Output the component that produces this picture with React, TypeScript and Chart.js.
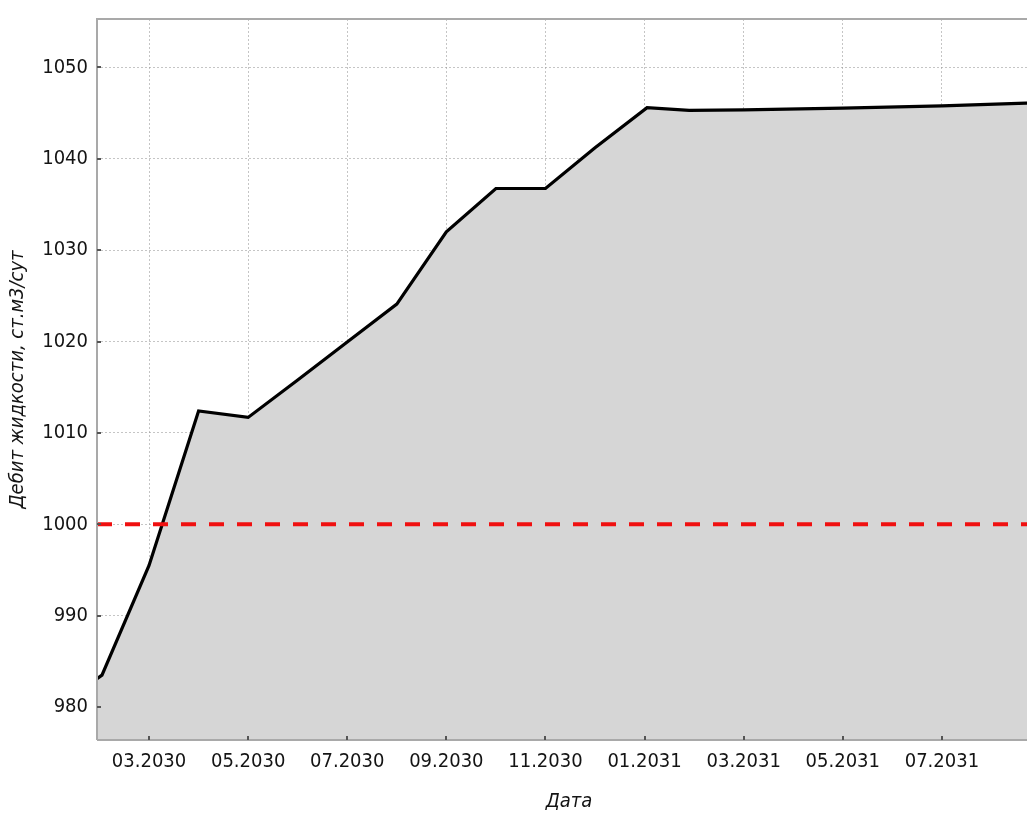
import React, { useEffect, useRef } from "react";
import { Chart, registerables } from "chart.js";

Chart.register(...registerables);

// x values: month index (0 = 01.2030)
const monthIndex = [0.95, 1.05, 2, 3, 4, 5, 6, 7, 8, 9, 10, 11, 12.05, 12.9, 14, 16, 18, 19.7, 20];
const liquidRate = [983.1, 983.5, 995.5, 1012.4, 1011.7, 1015.8, 1019.95, 1024.1, 1032.0, 1036.75, 1036.75, 1041.2, 1045.6, 1045.3, 1045.35, 1045.55, 1045.8, 1046.1, 1046.15];
const limitX = [0.95, 20];
const limitRate = [1000, 1000];
const xTickPositions = [2, 4, 6, 8, 10, 12, 14, 16, 18];
const xTickLabels = ["03.2030", "05.2030", "07.2030", "09.2030", "11.2030", "01.2031", "03.2031", "05.2031", "07.2031"];
const yTickValues = [980, 990, 1000, 1010, 1020, 1030, 1040, 1050];

const FONT = "'DejaVu Sans Condensed', 'DejaVu Sans', sans-serif";
const TEXT = "#141414";

const framePlugin = {
  id: "frame",
  afterDraw(chart: any) {
    const { ctx, chartArea, scales } = chart;
    ctx.save();
    ctx.strokeStyle = "#a9a9a9";
    ctx.lineWidth = 2;
    ctx.beginPath();
    ctx.moveTo(chartArea.left, chartArea.bottom);
    ctx.lineTo(chartArea.left, chartArea.top);
    ctx.lineTo(chartArea.right + 5, chartArea.top);
    ctx.moveTo(chartArea.left, chartArea.bottom);
    ctx.lineTo(chartArea.right + 5, chartArea.bottom);
    ctx.stroke();
    ctx.strokeStyle = "#555";
    ctx.lineWidth = 2;
    ctx.beginPath();
    for (const v of yTickValues) {
      const y = Math.round(scales.y.getPixelForValue(v));
      ctx.moveTo(chartArea.left, y);
      ctx.lineTo(chartArea.left + 4, y);
    }
    for (const v of xTickPositions) {
      const x = Math.round(scales.x.getPixelForValue(v));
      ctx.moveTo(x, chartArea.bottom);
      ctx.lineTo(x, chartArea.bottom - 4);
    }
    ctx.stroke();
    ctx.restore();
  },
};

export default function App() {
  const ref = useRef<HTMLCanvasElement | null>(null);
  useEffect(() => {
    if (!ref.current) return;
    const chart = new Chart(ref.current, {
      type: "line",
      data: {
        datasets: [
          {
            data: limitX.map((x, i) => ({ x, y: limitRate[i] })),
            borderColor: "#f01010",
            borderWidth: 4,
            borderDash: [15, 13],
            pointRadius: 0,
            fill: false,
            order: 0,
          },
          {
            data: monthIndex.map((x, i) => ({ x, y: liquidRate[i] })),
            borderColor: "#000000",
            borderWidth: 3.2,
            backgroundColor: "#d6d6d6",
            pointRadius: 0,
            fill: "start",
            tension: 0,
            order: 1,
          },
        ],
      },
      options: {
        animation: false,
        responsive: false,
        devicePixelRatio: 1,
        layout: { padding: { top: 19, left: 0, right: 0, bottom: 0 } },
        plugins: { legend: { display: false }, tooltip: { enabled: false } },
        scales: {
          x: {
            type: "linear",
            min: 0.95,
            max: 20,
            z: 1,
            afterBuildTicks: (s: any) => {
              s.ticks = xTickPositions.map((v) => ({ value: v }));
            },
            afterFit: (s: any) => {
              s.height = 73;
              s.paddingLeft = 0;
              s.paddingRight = 0;
            },
            ticks: {
              callback: (_v: any, i: number) => xTickLabels[i],
              font: { family: FONT, size: 20 },
              color: TEXT,
              padding: 10,
              maxRotation: 0,
              autoSkip: false,
            },
            grid: { color: "rgba(150,150,150,0.55)", lineWidth: 1, drawTicks: false },
            border: { display: false, dash: [2, 2] },
            title: {
              display: true,
              text: "Дата",
              font: { family: FONT, size: 20, style: "italic", lineHeight: 1 },
              color: TEXT,
              padding: { top: 0, bottom: 1 },
            },
          },
          y: {
            type: "linear",
            min: 976.4,
            max: 1055.3,
            z: 1,
            afterBuildTicks: (s: any) => {
              s.ticks = yTickValues.map((v) => ({ value: v }));
            },
            afterFit: (s: any) => {
              s.width = 97;
              s.paddingTop = 0;
              s.paddingBottom = 0;
            },
            ticks: {
              callback: (v: any) => String(v),
              font: { family: FONT, size: 20 },
              color: TEXT,
              padding: 9,
            },
            grid: { color: "rgba(150,150,150,0.55)", lineWidth: 1, drawTicks: false },
            border: { display: false, dash: [2, 2] },
            title: {
              display: true,
              text: "Дебит жидкости, ст.м3/сут",
              font: { family: FONT, size: 20, style: "italic", lineHeight: 1 },
              color: TEXT,
              padding: { top: 8, bottom: 0 },
            },
          },
        },
      },
      plugins: [framePlugin],
    });
    return () => chart.destroy();
  }, []);
  return (
    <div style={{ position: "fixed", left: 0, top: 0, width: 1041, height: 813, overflow: "hidden", background: "#fff" }}>
      <canvas ref={ref} width={1041} height={813} />
    </div>
  );
}
